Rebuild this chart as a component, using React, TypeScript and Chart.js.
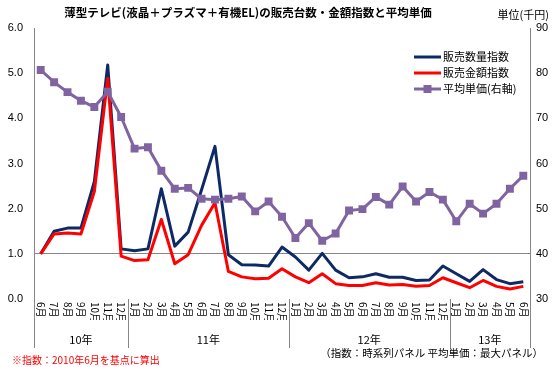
import React, { useEffect, useRef } from 'react';
import { Chart, registerables } from 'chart.js';

Chart.register(...registerables);

const months = [
  '6月', '7月', '8月', '9月', '10月', '11月', '12月',
  '1月', '2月', '3月', '4月', '5月', '6月', '7月', '8月', '9月', '10月', '11月', '12月',
  '1月', '2月', '3月', '4月', '5月', '6月', '7月', '8月', '9月', '10月', '11月', '12月',
  '1月', '2月', '3月', '4月', '5月', '6月',
];

const yearLabels = ['10年', '11年', '12年', '13年'];
const yearSpans = [7, 12, 12, 6];

const volumeIndex = [
  1.0, 1.5, 1.57, 1.57, 2.6, 5.18, 1.11,
  1.07, 1.11, 2.44, 1.17, 1.48, 2.42, 3.38, 0.98, 0.76, 0.755, 0.73, 1.15,
  0.93, 0.64, 1.01, 0.64, 0.47, 0.49, 0.56, 0.48, 0.48, 0.41, 0.42, 0.73,
  0.56, 0.39, 0.65, 0.43, 0.34, 0.38,
];

const valueIndex = [
  1.0, 1.44, 1.46, 1.44, 2.38, 4.89, 0.95,
  0.85, 0.87, 1.76, 0.78, 0.98, 1.63, 2.13, 0.61, 0.49, 0.45, 0.46, 0.67,
  0.49, 0.36, 0.56, 0.34, 0.3, 0.3, 0.36, 0.31, 0.32, 0.28, 0.3, 0.47,
  0.36, 0.25, 0.41, 0.28, 0.22, 0.28,
];

const avgPrice = [
  80.7, 78.0, 75.8, 73.9, 72.5, 75.9, 70.3,
  63.3, 63.6, 58.4, 54.4, 54.6, 52.2, 52.0, 52.2, 52.7, 49.4, 51.6, 48.2,
  43.5, 46.8, 42.9, 44.5, 49.6, 49.9, 52.6, 50.9, 54.9, 51.6, 53.7, 52.0,
  47.2, 51.1, 48.9, 51.1, 54.4, 57.3,
];

const seriesNames = ['販売数量指数', '販売金額指数', '平均単価(右軸)'];
const seriesColors = ['#0E2A66', '#FF0000', '#8064A2'];

const titleText = '薄型テレビ(液晶＋プラズマ＋有機EL)の販売台数・金額指数と平均単価';
const unitText = '単位(千円)';
const noteLeft = '※指数：2010年6月を基点に算出';
const noteRight = '（指数：時系列パネル 平均単価：最大パネル）';

const NUM = '"Liberation Sans", "Noto Sans CJK JP", sans-serif';
const JP = '"Noto Sans CJK JP", "Liberation Sans", sans-serif';
const AXIS = '#868686';

const overlay = {
  id: 'overlay',
  afterDraw(chart: any) {
    const ctx = chart.ctx as CanvasRenderingContext2D;
    const xs = chart.scales.x;
    const area = chart.chartArea;
    ctx.save();

    // title
    ctx.fillStyle = '#000';
    ctx.font = `bold 11.5px ${JP}`;
    ctx.textAlign = 'center';
    ctx.textBaseline = 'middle';
    ctx.fillText(titleText, 248, 13);

    ctx.font = `11px ${JP}`;
    ctx.textAlign = 'right';
    ctx.fillText(unitText, 549, 15);

    // legend
    const ly = [57, 73, 89];
    for (let i = 0; i < 3; i++) {
      ctx.strokeStyle = seriesColors[i];
      ctx.lineWidth = 3;
      ctx.beginPath();
      ctx.moveTo(414, ly[i]);
      ctx.lineTo(441, ly[i]);
      ctx.stroke();
      if (i === 2) {
        ctx.fillStyle = seriesColors[i];
        ctx.fillRect(427.5 - 4, ly[i] - 4, 8, 8);
      }
      ctx.fillStyle = '#000';
      ctx.font = `11px ${JP}`;
      ctx.textAlign = 'left';
      ctx.textBaseline = 'middle';
      ctx.fillText(seriesNames[i], 443, ly[i]);
    }

    // month labels (rotated clockwise, clipped)
    ctx.save();
    ctx.beginPath();
    ctx.rect(0, area.bottom, chart.width, 21);
    ctx.clip();
    ctx.font = `10px ${JP}`;
    ctx.fillStyle = '#000';
    ctx.textAlign = 'left';
    ctx.textBaseline = 'middle';
    months.forEach((m, i) => {
      const px = xs.getPixelForValue(i);
      ctx.save();
      ctx.translate(px, area.bottom + 3);
      ctx.rotate(Math.PI / 2);
      ctx.fillText(m, 0, 0);
      ctx.restore();
    });
    ctx.restore();

    // year dividers and labels
    ctx.strokeStyle = AXIS;
    ctx.lineWidth = 1;
    let start = 0;
    const bounds: number[] = [area.left];
    yearSpans.forEach((span) => {
      const end = start + span;
      const right = end >= months.length
        ? area.right
        : (xs.getPixelForValue(end - 1) + xs.getPixelForValue(end)) / 2;
      bounds.push(right);
      start = end;
    });
    bounds.forEach((b) => {
      const bx = Math.round(b) + 0.5;
      ctx.beginPath();
      ctx.moveTo(bx, area.bottom);
      ctx.lineTo(bx, 348);
      ctx.stroke();
    });
    ctx.fillStyle = '#000';
    ctx.font = `11px ${JP}`;
    ctx.textAlign = 'center';
    ctx.textBaseline = 'middle';
    yearLabels.forEach((y, k) => {
      ctx.fillText(y, (bounds[k] + bounds[k + 1]) / 2, 340);
    });

    // notes
    ctx.font = `10px ${JP}`;
    ctx.fillStyle = '#FF0000';
    ctx.textAlign = 'left';
    ctx.fillText(noteLeft, 12, 360);
    ctx.fillStyle = '#000';
    ctx.font = `10.5px ${JP}`;
    ctx.textAlign = 'right';
    ctx.fillText(noteRight, 543, 353);

    ctx.restore();
  },
};

export default function App() {
  const ref = useRef<HTMLCanvasElement | null>(null);

  useEffect(() => {
    if (!ref.current) return;
    const chart = new Chart(ref.current, {
      type: 'line',
      data: {
        labels: months,
        datasets: [
          {
            label: seriesNames[0],
            data: volumeIndex,
            borderColor: seriesColors[0],
            backgroundColor: seriesColors[0],
            borderWidth: 3,
            pointRadius: 0,
            borderJoinStyle: 'round',
            yAxisID: 'y',
            order: 3,
          },
          {
            label: seriesNames[1],
            data: valueIndex,
            borderColor: seriesColors[1],
            backgroundColor: seriesColors[1],
            borderWidth: 3,
            pointRadius: 0,
            borderJoinStyle: 'round',
            yAxisID: 'y',
            order: 2,
          },
          {
            label: seriesNames[2],
            data: avgPrice,
            borderColor: seriesColors[2],
            backgroundColor: seriesColors[2],
            borderWidth: 3,
            pointStyle: 'rect',
            pointRadius: 5.6,
            pointBorderWidth: 0,
            borderJoinStyle: 'round',
            yAxisID: 'y1',
            order: 1,
          },
        ],
      },
      options: {
        responsive: false,
        animation: false,
        devicePixelRatio: 1,
        layout: { padding: { top: 28, left: 0, right: 0, bottom: 0 } },
        plugins: {
          legend: { display: false },
          title: { display: false },
          tooltip: { enabled: false },
        },
        scales: {
          x: {
            type: 'category',
            offset: true,
            grid: { display: false },
            border: { display: false },
            ticks: { display: false },
            afterFit: (s: any) => { s.height = 68; },
          },
          y: {
            position: 'left',
            min: 0,
            max: 6,
            ticks: {
              stepSize: 1,
              padding: 11,
              color: '#000',
              font: { family: NUM, size: 11 },
              callback: (v: any) => Number(v).toFixed(1),
            },
            grid: {
              drawTicks: false,
              color: (c: any) => (c.tick && c.tick.value === 1 ? AXIS : 'rgba(0,0,0,0)'),
            },
            border: { color: AXIS, width: 1 },
            afterFit: (s: any) => { s.width = 34; },
          },
          y1: {
            position: 'right',
            min: 30,
            max: 90,
            ticks: {
              stepSize: 10,
              padding: 6,
              color: '#000',
              font: { family: NUM, size: 11 },
            },
            grid: { display: false, drawTicks: false },
            border: { color: AXIS, width: 1 },
            afterFit: (s: any) => { s.width = 23; },
          },
        },
      },
      plugins: [overlay],
    });
    return () => chart.destroy();
  }, []);

  return (
    <div style={{ position: 'fixed', left: 0, top: 0, width: 553, height: 367, background: '#fff' }}>
      <canvas ref={ref} width={553} height={367} style={{ display: 'block' }} />
    </div>
  );
}
